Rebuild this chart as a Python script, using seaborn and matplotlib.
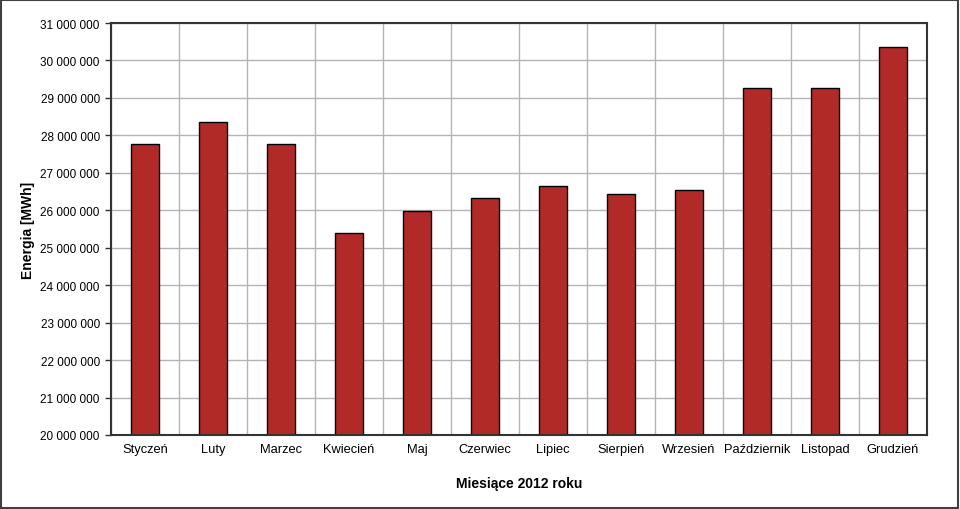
import numpy as np
import pandas as pd
import matplotlib
matplotlib.use('Agg')
import matplotlib.pyplot as plt
import matplotlib.ticker as mticker
import seaborn as sns

# Data
months = ['Styczeń', 'Luty', 'Marzec', 'Kwiecień', 'Maj', 'Czerwiec',
          'Lipiec', 'Sierpień', 'Wrzesień', 'Październik', 'Listopad', 'Grudzień']
energy = [27770000, 28360000, 27770000, 25390000, 25970000, 26330000,
          26640000, 26440000, 26550000, 29270000, 29260000, 30350000]

df = pd.DataFrame({'Miesiac': months, 'Energia': energy})

sns.set_style("white")
plt.rcParams['font.family'] = ['Liberation Sans', 'DejaVu Sans']
plt.rcParams['text.color'] = 'black'
plt.rcParams['axes.labelcolor'] = 'black'
plt.rcParams['xtick.color'] = 'black'
plt.rcParams['ytick.color'] = 'black'

fig = plt.figure(figsize=(9.6, 5.1), dpi=100)
ax = fig.add_axes([0.1156, 0.1451, 0.85, 0.8078])

sns.barplot(x='Miesiac', y='Energia', data=df, color='#b22a27',
            edgecolor='black', linewidth=1.0, width=0.4, saturation=1, ax=ax)

ax.set_ylim(20000000, 31000000)
ax.set_xlim(-0.5, len(months) - 0.5)
ax.yaxis.set_major_locator(mticker.MultipleLocator(1000000))
ax.yaxis.set_major_formatter(mticker.FuncFormatter(lambda v, p: f'{int(v):,}'.replace(',', ' ')))

# vertical grid at category boundaries
ax.set_xticks(np.arange(len(months) + 1) - 0.5, minor=True)
ax.grid(True, which='minor', axis='x', color='#b4b4b4', linewidth=1.0)
ax.grid(True, which='major', axis='y', color='#b4b4b4', linewidth=1.0)
ax.set_axisbelow(True)

ax.tick_params(axis='x', which='major', length=0, pad=6, labelsize=9.3, labelcolor='black')
ax.tick_params(axis='x', which='minor', length=4, width=1, color='#333333', direction='out')
ax.tick_params(axis='y', which='major', length=4, width=1, color='#333333', direction='out',
               left=True, labelsize=8.5, pad=4, labelcolor='black')

for s in ax.spines.values():
    s.set_visible(True)
    s.set_color('#333333')
    s.set_linewidth(1.5)

ax.set_xlabel('Miesiące 2012 roku', fontsize=10, fontweight='bold', labelpad=15)
ax.set_ylabel('Energia [MWh]', fontsize=10, fontweight='bold', labelpad=4)

# outer frame
fig.patches.append(plt.Rectangle((0.001, 0.002), 0.997, 0.996, transform=fig.transFigure,
                                 fill=False, edgecolor='#404040', linewidth=1.5))

fig.savefig('out.png', dpi=100)
